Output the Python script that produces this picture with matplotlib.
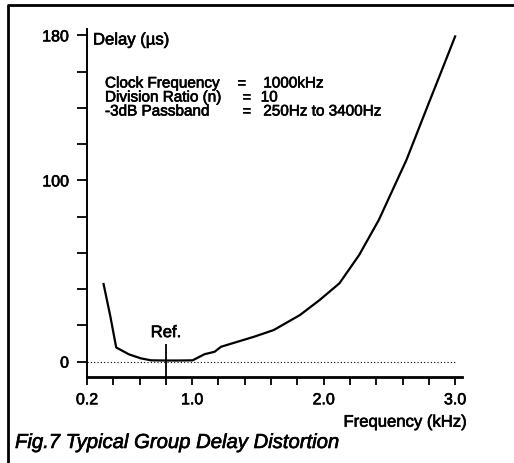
import matplotlib
matplotlib.use("Agg")
import matplotlib.pyplot as plt
from matplotlib.lines import Line2D
import matplotlib.patheffects as pe

plt.rcParams['font.family'] = ['Liberation Sans', 'DejaVu Sans']

# ---- data ----
freq_khz = [0.326, 0.378, 0.422, 0.519, 0.609, 0.687, 0.80, 0.90, 1.003, 1.095,
            1.17, 1.22, 1.47, 1.62, 1.82, 1.97, 2.12, 2.27, 2.42, 2.63, 2.80, 2.88, 3.0]
delay_us = [42.8, 24.8, 7.8, 4.0, 1.8, 0.7, 0.6, 0.6, 0.7, 4.1,
            5.4, 8.2, 13.7, 17.4, 25.7, 34.0, 43.2, 58.8, 78.2, 111.3, 142.7, 157.3, 179.4]
ref_freq = 0.8
ref_top = 9.5
x_ticks = [0.2, 0.4, 0.6, 0.8, 1.0, 1.2, 1.4, 1.6, 1.8, 2.0, 2.2, 2.4, 2.6, 2.8, 3.0]
x_labels = ['0.2', '', '', '', '1.0', '', '', '', '', '2.0', '', '', '', '', '3.0']
y_ticks = [0, 20, 40, 60, 80, 100, 120, 140, 160, 180]
y_labels = ['0', '', '', '', '', '100', '', '', '', '180']
info_labels = ['Clock Frequency', 'Division Ratio (n)', '-3dB Passband']
info_values = ['1000kHz', '10', '250Hz to 3400Hz']

W, H = 514, 463
fig = plt.figure(figsize=(W / 100, H / 100), dpi=100)
fig.patch.set_facecolor('white')

heavy = [pe.withStroke(linewidth=0.45, foreground='black')]

def fx(px):
    return px / W

def fy(py):
    return 1 - py / H

ax_l, ax_r, ax_t, ax_b = 87, 461.7, 29, 377
ax = fig.add_axes([fx(ax_l), fy(ax_b), (ax_r - ax_l) / W, (ax_b - ax_t) / H])
ax.set_xlim(0.2, 3.05)
ax.set_ylim(-8.5, 183.5)
for s in ['top', 'right']:
    ax.spines[s].set_visible(False)
ax.spines['left'].set_linewidth(1.4)
ax.spines['bottom'].set_linewidth(2.0)

ax.set_xticks(x_ticks)
ax.set_xticklabels(x_labels, fontsize=11.5)
ax.set_yticks(y_ticks)
ax.set_yticklabels(y_labels, fontsize=11.5)
for lab in ax.get_xticklabels() + ax.get_yticklabels():
    lab.set_path_effects(heavy)
ax.tick_params(axis='x', direction='out', length=6, width=1.3, pad=5)
ax.tick_params(axis='y', direction='out', length=7, width=1.3, pad=6)

ax.plot(freq_khz, delay_us, color='black', lw=1.6)
ax.hlines(0, 0.2, 3.0, colors='black', linestyles=(0, (1, 2)), lw=0.8)
ax.vlines(ref_freq, -8.5, ref_top, colors='black', lw=1.3)
ax.text(ref_freq, 16, 'Ref.', ha='center', va='center', fontsize=12, path_effects=heavy)

# texts
fig.text(fx(93), fy(40), 'Delay (µs)', ha='left', va='center', fontsize=12, path_effects=heavy)
base_y = [87.5, 101.5, 115.5]
eq_x = [241.7, 246.7, 246.7]
val_x = [263.3, 260.7, 263.3]
for i in range(3):
    fig.text(fx(105), fy(base_y[i]), info_labels[i], ha='left', va='baseline', fontsize=11,
             path_effects=heavy)
    fig.text(fx(eq_x[i]), fy(base_y[i]), '=', ha='center', va='baseline', fontsize=11,
             path_effects=heavy)
    fig.text(fx(val_x[i]), fy(base_y[i]), info_values[i], ha='left', va='baseline', fontsize=11,
             path_effects=heavy)

fig.text(fx(467), fy(426.7), 'Frequency (kHz)', ha='right', va='baseline', fontsize=12,
         path_effects=heavy)
fig.text(fx(15), fy(448), 'Fig.7 Typical Group Delay Distortion', ha='left', va='baseline',
         fontsize=14.6, style='italic', path_effects=heavy)

# frame (left and top edges)
fig.add_artist(Line2D([fx(8), fx(8), fx(W)], [0, fy(5), fy(5)], color='black', lw=2.0,
                      transform=fig.transFigure))

fig.savefig('out.png', dpi=100)
